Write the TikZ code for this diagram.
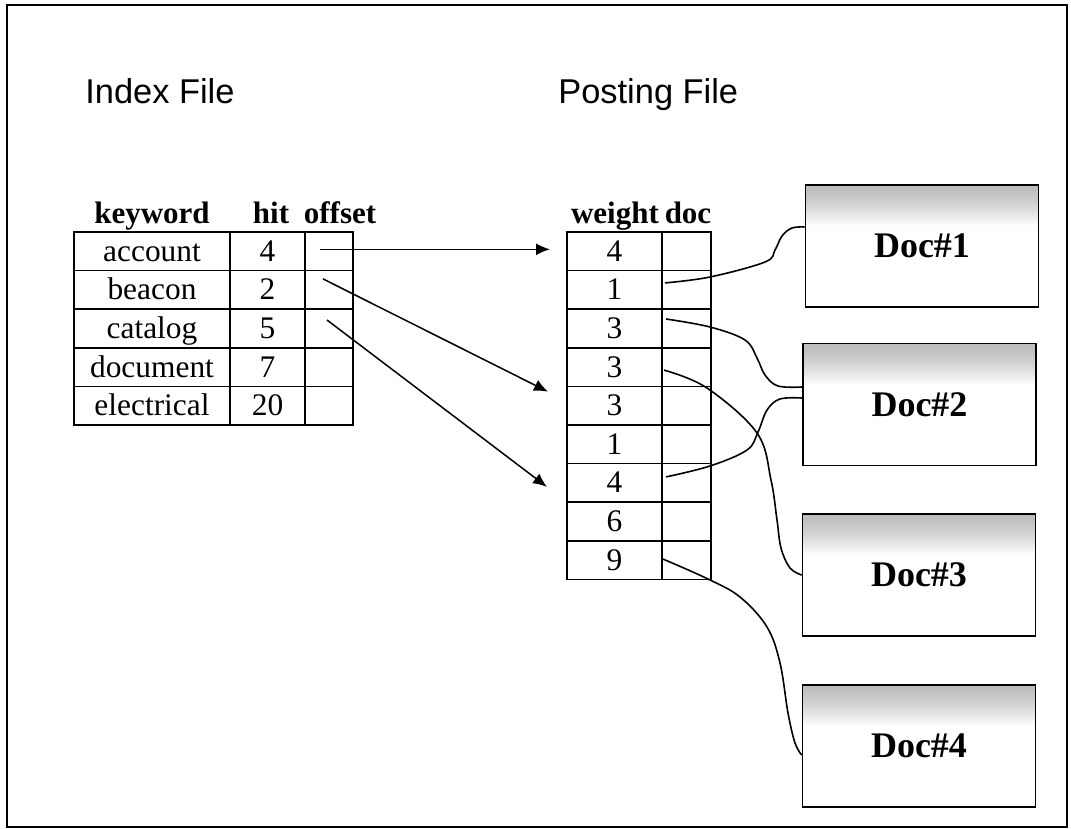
\documentclass[tikz,border=0pt]{standalone}
\usepackage{fontspec}
\setmainfont{Liberation Serif}
\newfontfamily\titlefont{Liberation Sans}
\usetikzlibrary{arrows.meta,calc,positioning}
\tikzset{%
  >={Latex[width=6pt,length=7pt]},
  % Table cells, headers and document boxes
        cell/.style = {draw, line width=0.8pt, inner sep=0pt, outer sep=0pt,
                       minimum height=19.3pt, text height=13pt, text depth=3pt,
                       font=\fontsize{15.7}{18}\selectfont},
      kwcell/.style = {cell, minimum width=78pt},
     hitcell/.style = {cell, minimum width=37.5pt},
     offcell/.style = {cell, minimum width=24pt},
      wtcell/.style = {cell, minimum width=47.5pt},
     doccell/.style = {cell, minimum width=24.5pt},
        head/.style = {anchor=base, inner sep=0pt,
                       font=\fontsize{15.5}{18}\selectfont\bfseries},
   filetitle/.style = {anchor=base west, inner sep=0pt,
                       font=\titlefont\fontsize{17.2}{20}\selectfont},
  % grey fade along the top edge, built from thin strips
      docbox/.style = {draw, line width=0.8pt, minimum width=116.5pt,
                       minimum height=61pt,
                       font=\fontsize{18}{20}\selectfont\bfseries,
                       path picture={
                         \foreach \k [evaluate=\k as \g using 52*(1-(\k/20)^1.4)] in {0,...,19}
                           \fill[gray!\g]
                             ([yshift=-\k*1pt]path picture bounding box.north west)
                             rectangle
                             ([yshift=-\k*1pt-1.05pt]path picture bounding box.north east);
                       }},
     pointer/.style = {->, line width=0.75pt},
        link/.style = {line width=0.8pt},
}

\begin{document}
\begin{tikzpicture}[x=0.5pt, y=-0.5pt]
  \useasboundingbox (0,0) rectangle (1071,829);
  \draw[line width=0.8pt] (7,5) rectangle (1067,827);
  % Titles
  \node[filetitle] (idxtitle)  at (85,104)  {Index File};
  \node[filetitle] (posttitle) at (558,104) {Posting File};
  % Index file table
  \node[head] (hkw)  at (152,223) {keyword};
  \node[head] (hhit) at (271,223) {hit};
  \node[head] (hoff) at (340,223) {offset};
  \foreach \kw/\hit [count=\i] in {account/4, beacon/2, catalog/5,
                                   document/7, electrical/20}
  {
    \node[kwcell] (kw\i) at (152, 232+38.6*\i-19.3) {\kw};
    \node[hitcell, right=0pt of kw\i]  (hit\i) {\hit};
    \node[offcell, right=0pt of hit\i] (off\i) {};
  }
  % Posting file table
  \node[head] (hwt)  at (615,223) {weight};
  \node[head] (hdoc) at (688,223) {doc};
  \foreach \wt [count=\j] in {4,1,3,3,3,1,4,6,9}
  {
    \node[wtcell] (wt\j) at (614.5, 232+38.6*\j-19.3) {\wt};
    \node[doccell, right=0pt of wt\j] (doc\j) {};
  }
  % Documents
  \node[docbox] (d1) at (922,246)     {Doc\#1};
  \node[docbox] (d2) at (919.5,404.5) {Doc\#2};
  \node[docbox] (d3) at (919,575)     {Doc\#3};
  \node[docbox] (d4) at (919,746)     {Doc\#4};
  % Offsets into the posting file
  \draw[pointer] ($(off1)+(-9,-2)$)   -- ($(wt1.west)+(-17,-2)$);
  \draw[pointer] ($(off2)+(-6,-11)$)  -- ($(wt5.west)+(-19,-14)$);
  \draw[pointer] ($(off3)+(-2,-8.5)$) -- ($(wt7.west)+(-20,4)$);
  % Doc pointers
  \coordinate (a1) at ($(doc2.west)+(3,-7)$);
  \coordinate (a2) at ($(doc3.west)+(4,-9.5)$);
  \coordinate (a3) at ($(doc4.west)+(2,3)$);
  \coordinate (a4) at ($(doc7.west)+(4,-6)$);
  \coordinate (a5) at ($(doc9.west)+(1,-1)$);
  \coordinate (b1) at ($(d1.west)+(0,-19)$);
  \coordinate (b2) at ($(d2.west)+(0,-17.5)$);
  \coordinate (b3) at (d3.west);
  \coordinate (b4) at ($(d2.west)+(0,-6.5)$);
  \coordinate (b5) at ($(d4.west)+(0,9)$);
  \draw[link] plot[smooth, tension=0.6] coordinates
    {(a1) (710,277) (765,262) (775,250) (782,236) (792,228) (b1)};
  \draw[link] plot[smooth, tension=0.6] coordinates
    {(a2) (710,327) (745,340) (757,358) (765,375) (778,386) (b2)};
  \draw[link] plot[smooth, tension=0.6] coordinates
    {(a3) (707,388) (757,433) (771,480) (777,520) (781,548) (790,568) (b3)};
  \draw[link] plot[smooth, tension=0.6] coordinates
    {(a4) (710,466) (747,450) (758,432) (767,410) (780,399) (b4)};
  \draw[link] plot[smooth, tension=0.6] coordinates
    {(a5) (708,579) (740,597) (767,627) (780,663) (788,713) (795,743) (b5)};
\end{tikzpicture}
\end{document}
